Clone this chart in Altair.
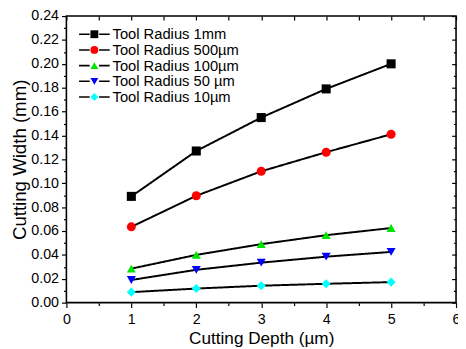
import altair as alt
import pandas as pd

# ---- data ----
depth = [1, 2, 3, 4, 5]
series = ["Tool Radius 1mm", "Tool Radius 500µm", "Tool Radius 100µm",
          "Tool Radius 50 µm", "Tool Radius 10µm"]
line_keys = ["L1", "L2", "L3", "L4", "L5"]
r_1mm = [0.089, 0.127, 0.155, 0.179, 0.200]
r_500 = [0.0635, 0.0895, 0.110, 0.126, 0.141]
r_100 = [0.0285, 0.040, 0.049, 0.0565, 0.0625]
r_50 = [0.019, 0.0275, 0.0335, 0.0385, 0.0425]
r_10 = [0.0088, 0.0118, 0.0142, 0.0158, 0.0172]
all_values = [r_1mm, r_500, r_100, r_50, r_10]

colors = ["#000000", "#ff0000", "#00e600", "#0000ff", "#00ffff"]
shapes = ["square", "circle", "triangle-up", "triangle-down", "diamond"]

x_ticks = [i * 0.5 for i in range(13)]
y_ticks = [round(i * 0.01, 2) for i in range(25)]

rows = []
for name, key, vals in zip(series, line_keys, all_values):
    for d, v in zip(depth, vals):
        rows.append({"depth": d, "width": v, "series": name, "series_l": key})
df = pd.DataFrame(rows)

FONT = "Liberation Sans"
xscale = alt.Scale(domain=[0, 6], nice=False, zero=False)
yscale = alt.Scale(domain=[0, 0.24], nice=False, zero=False)

x_minor = "datum.value % 1"
y_minor = "round(datum.value * 100) % 2"

legend_common = dict(
    orient="none", legendX=21, legendY=11, title=None, padding=0,
    rowPadding=0, labelOffset=11, labelFont=FONT, labelFontSize=15,
    labelColor="black", symbolSize=64, labelLimit=300,
)

base = alt.Chart(df)

lines = base.mark_line(color="black", strokeWidth=2).encode(
    x=alt.X("depth:Q", scale=xscale, axis=alt.Axis(
        orient="bottom", values=x_ticks, title="Cutting Depth (µm)",
        labelExpr="datum.value % 1 ? '' : format(datum.value, 'd')",
        tickSize={"condition": {"test": x_minor, "value": 3}, "value": 5},
        labelOverlap=False, labelFlush=False, grid=False, domain=False,
        tickColor="black", tickWidth=1.2, labelFont=FONT, labelFontSize=14.5,
        labelColor="black", labelPadding=5, titleFont=FONT, titleFontSize=17.5,
        titleFontWeight="normal", titleColor="black", titlePadding=4)),
    y=alt.Y("width:Q", scale=yscale, axis=alt.Axis(
        orient="left", values=y_ticks, title="Cutting Width (mm)",
        labelExpr="round(datum.value * 100) % 2 ? '' : format(datum.value, '.2f')",
        tickSize={"condition": {"test": y_minor, "value": 3}, "value": 5},
        labelOverlap=False, labelFlush=False, grid=False, domain=False,
        tickColor="black", tickWidth=1.2, labelFont=FONT, labelFontSize=14.5,
        labelColor="black", labelPadding=3, titleFont=FONT, titleFontSize=19,
        titleFontWeight="normal", titleColor="black", titlePadding=1)),
    strokeDash=alt.StrokeDash("series_l:N",
        scale=alt.Scale(domain=line_keys, range=[[1, 0]] * 5),
        legend=alt.Legend(symbolType="M-3.9,0H-1.2M1.2,0H3.9",
                          symbolStrokeColor="black", symbolStrokeWidth=1.6,
                          symbolFillColor="transparent", labelExpr="''",
                          **legend_common)),
)

points = base.mark_point(filled=True, opacity=1, size=85).encode(
    x=alt.X("depth:Q", scale=xscale, axis=alt.Axis(
        orient="top", offset=-4, values=x_ticks, tickSize=4, labels=False,
        domain=False, grid=False, title=None, tickColor="black", tickWidth=1.2)),
    y=alt.Y("width:Q", scale=yscale, axis=alt.Axis(
        orient="right", offset=-4.5, values=y_ticks, tickSize=4.5,
        tickDash={"condition": {"test": y_minor, "value": [0, 1.8, 2.7, 4]},
                  "value": [4.5, 0]},
        labels=False, domain=False, grid=False, title=None,
        tickColor="black", tickWidth=1.2)),
    color=alt.Color("series:N", scale=alt.Scale(domain=series, range=colors),
                    legend=alt.Legend(symbolStrokeWidth=0, **legend_common)),
    shape=alt.Shape("series:N", scale=alt.Scale(domain=series, range=shapes),
                    legend=alt.Legend(symbolStrokeWidth=0, **legend_common)),
)

chart = alt.layer(lines, points).resolve_axis(
    x="independent", y="independent"
).properties(
    width=397, height=292,
    padding={"left": 59.5, "top": 5, "right": 2, "bottom": 44},
    autosize=alt.AutoSizeParams(type="none"),
).configure_view(
    stroke="black", strokeWidth=1.6
).configure_legend(
    labelFont=FONT, labelFontSize=15, labelColor="black"
)

chart.save("out.html", embed_options={"renderer": "svg", "actions": False})
